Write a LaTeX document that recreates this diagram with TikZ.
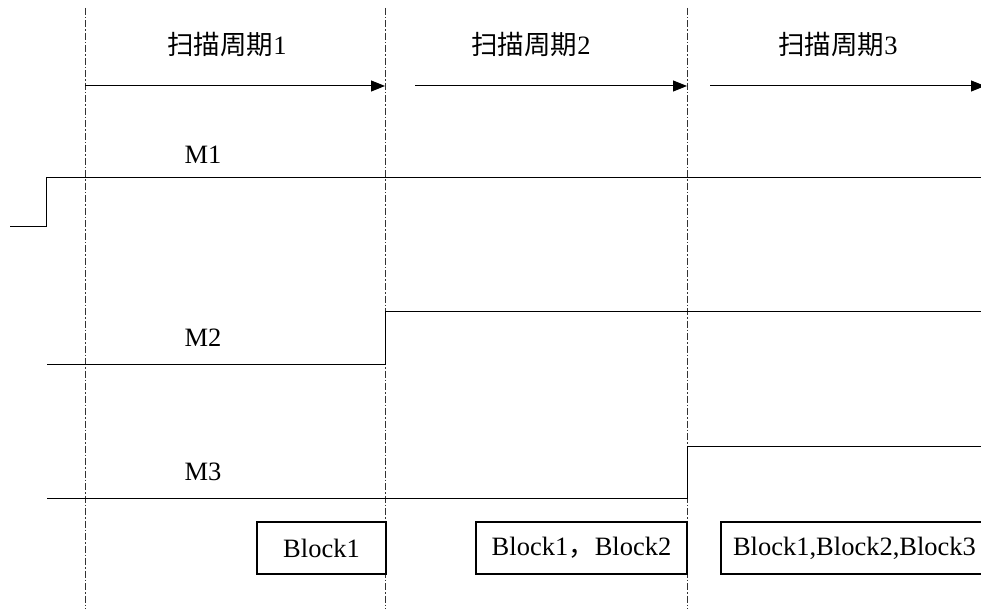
\documentclass[tikz,border=0pt]{standalone}
\usepackage{fontspec}
\setmainfont{Liberation Serif}
\newfontfamily\cjk{Noto Sans CJK SC}
\usetikzlibrary{arrows.meta,positioning}

\begin{document}
\begin{tikzpicture}[x=1pt,y=-1pt,font=\fontsize{26.5}{30}\selectfont,
  sep/.style={draw=black!80,line width=0.7pt,dash pattern=on 7pt off 2pt on 1.5pt off 2pt},
  sig/.style={draw=black,line width=1pt},
  blk/.style={draw=black,line width=1.2pt,minimum height=52pt,inner sep=0pt},
  >={Triangle[length=14pt,width=11pt]}]
\useasboundingbox (0,0) rectangle (981,609);
% cycle boundaries
\foreach \n/\x in {a/85,b/385,c/687}{
  \coordinate (\n top) at (\x,8);
  \coordinate (\n bot) at (\x,609);
  \draw[sep] (\n top)--(\n bot);
}
% cycle arrows
\node (p1) at (227,45) {{\cjk 扫描周期}1};
\node (p2) at (531,45) {{\cjk 扫描周期}2};
\node (p3) at (838,45) {{\cjk 扫描周期}3};
\coordinate (s1) at (85,86);\coordinate (e1) at (385,86);
\coordinate (s2) at (415,86);\coordinate (e2) at (687,86);
\coordinate (s3) at (710,86);\coordinate (e3) at (985,86);
\draw[sig,->] (s1)--(e1);\draw[sig,->] (s2)--(e2);\draw[sig,->] (s3)--(e3);
% signals
\node (m1) at (203,155) {M1};
\node (m2) at (203,338) {M2};
\node (m3) at (203,472) {M3};
\draw[sig] (10,227)--(46,227)--(46,178)--(981,178);
\draw[sig] (47,364)--(385,364)--(385,311)--(981,311);
\draw[sig] (47,498)--(687,498)--(687,446)--(981,446);
% executed blocks
\node[blk,minimum width=129pt] (b1) at (321.5,548) {Block1};
\node[blk,minimum width=211pt] (b2) at (581.5,548) {Block1{\cjk ，}Block2};
\node[blk,minimum width=267pt] (b3) at (854.5,548) {Block1,Block2,Block3};
\end{tikzpicture}
\end{document}
